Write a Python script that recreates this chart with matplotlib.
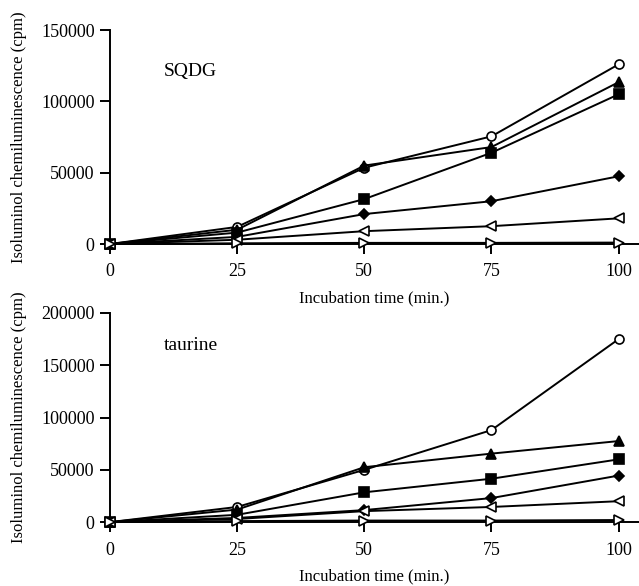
import matplotlib.pyplot as plt

plt.rcParams['font.family'] = ['Liberation Serif', 'DejaVu Serif']

times = [0, 25, 50, 75, 100]

# SQDG panel
sqdg_circle = [0, 12000, 53500, 75500, 126000]
sqdg_triangle = [0, 10000, 55000, 68000, 113500]
sqdg_square = [0, 8000, 31500, 64000, 105000]
sqdg_diamond = [0, 5000, 21000, 30000, 47500]
sqdg_left = [0, 3000, 9000, 12500, 18000]
sqdg_right = [0, 500, 800, 800, 1000]

# taurine panel
tau_circle = [0, 14500, 50000, 88000, 175000]
tau_triangle = [0, 12000, 52500, 65500, 77500]
tau_square = [0, 7000, 28500, 41500, 60000]
tau_diamond = [0, 4000, 11500, 23000, 44500]
tau_left = [0, 3000, 10500, 14500, 20000]
tau_right = [0, 1000, 1500, 1500, 2000]

styles = [('o', 'white'), ('^', 'black'), ('s', 'black'),
          ('D', 'black'), ('<', 'white'), ('>', 'white')]


def drawPanel(ax, series, ymax, yticks, label, labelY):
	for values, (marker, face) in zip(series, styles):
		ms = 5 if marker == 'D' else 6.5
		ax.plot(times, values, color='black', lw=1.4, marker=marker,
			markersize=ms, markerfacecolor=face, markeredgecolor='black',
			markeredgewidth=1.2, clip_on=False, zorder=3)
	ax.set_xlim(0, 104)
	ax.set_ylim(0, ymax)
	ax.set_xticks(times)
	ax.set_yticks(yticks)
	ax.spines['top'].set_visible(False)
	ax.spines['right'].set_visible(False)
	ax.spines['left'].set_linewidth(1.4)
	ax.spines['bottom'].set_linewidth(1.4)
	ax.tick_params(direction='out', length=7, width=1.4, labelsize=13, pad=4)
	ax.tick_params(axis='x', pad=7)
	ax.set_xlabel('Incubation time (min.)', fontsize=12, labelpad=7)
	ax.set_ylabel('Isoluminol chemiluminescence (cpm)', fontsize=12, labelpad=10)
	ax.text(10.5, labelY, label, fontsize=14)


fig = plt.figure(figsize=(6.39, 5.86), dpi=100)
ax1 = fig.add_axes([0.172, 0.5836, 0.828, 0.365])
ax2 = fig.add_axes([0.172, 0.109, 0.828, 0.357])

drawPanel(ax1, [sqdg_circle, sqdg_triangle, sqdg_square, sqdg_diamond, sqdg_left, sqdg_right],
	150000, [0, 50000, 100000, 150000], 'SQDG', 118000)
drawPanel(ax2, [tau_circle, tau_triangle, tau_square, tau_diamond, tau_left, tau_right],
	200000, [0, 50000, 100000, 150000, 200000], 'taurine', 165000)

fig.savefig('out.png', dpi=100)
